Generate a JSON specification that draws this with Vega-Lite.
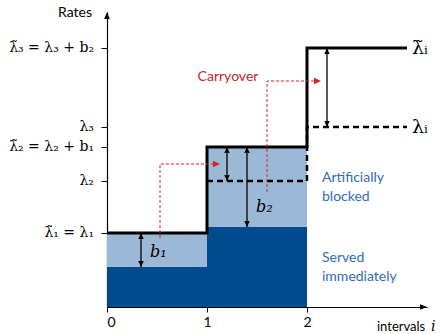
{
  "$schema": "https://vega.github.io/schema/vega-lite/v6.json",
  "width": 320,
  "height": 295,
  "autosize": "none",
  "padding": {"left": 107, "top": 12, "right": 15, "bottom": 27},
  "config": {"view": {"stroke": null}},
  "datasets": {
    "bars": [
      {"i0": 0, "i1": 1, "lo": 0, "hi": 4.0, "kind": "served"},
      {"i0": 1, "i1": 2, "lo": 0, "hi": 8.0, "kind": "served"},
      {"i0": 0, "i1": 1, "lo": 4.0, "hi": 7.4, "kind": "blocked"},
      {"i0": 1, "i1": 2, "lo": 8.0, "hi": 16.0, "kind": "blocked"}
    ],
    "solid": [
      {"ord": 1, "x": 0, "y": 7.4},
      {"ord": 2, "x": 1, "y": 7.4},
      {"ord": 3, "x": 1, "y": 16.0},
      {"ord": 4, "x": 2, "y": 16.0},
      {"ord": 5, "x": 2, "y": 25.9},
      {"ord": 6, "x": 3.0, "y": 25.9}
    ],
    "dashed": [
      {"ord": 1, "x": 1, "y": 12.6},
      {"ord": 2, "x": 2, "y": 12.6},
      {"ord": 3, "x": 2, "y": 18.0},
      {"ord": 4, "x": 3.0, "y": 18.0}
    ],
    "arrows": [
      {"x": 0.34, "top": 7.4, "bottom": 4.0},
      {"x": 1.2, "top": 16.0, "bottom": 12.6},
      {"x": 1.4, "top": 16.0, "bottom": 8.0},
      {"x": 2.2, "top": 25.9, "bottom": 18.0}
    ],
    "carry": [
      {"seg": "c1", "ord": 1, "x": 0.53, "y": 6.9},
      {"seg": "c1", "ord": 2, "x": 0.53, "y": 14.3},
      {"seg": "c1", "ord": 3, "x": 1.1, "y": 14.3},
      {"seg": "c2", "ord": 1, "x": 1.6, "y": 11.5},
      {"seg": "c2", "ord": 2, "x": 1.6, "y": 22.6},
      {"seg": "c2", "ord": 3, "x": 2.12, "y": 22.6}
    ],
    "carryTips": [
      {"x": 1.13, "y": 14.3},
      {"x": 2.14, "y": 22.6}
    ],
    "ylabels": [
      {"y": 25.9, "label": "λ̃₃ = λ₃ + b₂"},
      {"y": 18.0, "label": "λ₃"},
      {"y": 16.0, "label": "λ̃₂ = λ₂ + b₁"},
      {"y": 12.6, "label": "λ₂"},
      {"y": 7.4, "label": "λ̃₁ = λ₁"}
    ]
  },
  "layer": [
    {
      "data": {"name": "bars"},
      "mark": {"type": "rect"},
      "encoding": {
        "x": {"field": "i0", "type": "quantitative", "scale": {"domain": [0, 3.2], "nice": false},
          "axis": {"values": [0, 1, 2], "format": "d", "title": null, "grid": false, "domainColor": "black", "domainWidth": 1.2, "tickColor": "black", "tickSize": 5, "labelFont": "Lato", "labelFontSize": 14, "labelFontWeight": "normal", "labelColor": "black", "labelPadding": 3}},
        "x2": {"field": "i1"},
        "y": {"field": "lo", "type": "quantitative", "scale": {"domain": [0, 29.5], "nice": false},
          "axis": {"values": [7.4, 12.6, 16.0, 18.0, 25.9], "labels": false, "title": null, "grid": false, "domainColor": "black", "domainWidth": 1.2, "tickColor": "black", "tickSize": 6}},
        "y2": {"field": "hi"},
        "color": {"field": "kind", "type": "nominal", "scale": {"domain": ["served", "blocked"], "range": ["#004b8e", "#9bb9d7"]}, "legend": null}
      }
    },
    {
      "data": {"name": "dashed"},
      "mark": {"type": "line", "color": "black", "strokeWidth": 2.5, "strokeDash": [6, 4]},
      "encoding": {
        "x": {"field": "x", "type": "quantitative"},
        "y": {"field": "y", "type": "quantitative"},
        "order": {"field": "ord"}
      }
    },
    {
      "data": {"name": "solid"},
      "mark": {"type": "line", "color": "black", "strokeWidth": 3, "strokeJoin": "miter"},
      "encoding": {
        "x": {"field": "x", "type": "quantitative"},
        "y": {"field": "y", "type": "quantitative"},
        "order": {"field": "ord"}
      }
    },
    {
      "data": {"name": "arrows"},
      "mark": {"type": "rule", "color": "black", "strokeWidth": 1.3},
      "encoding": {
        "x": {"field": "x", "type": "quantitative"},
        "y": {"field": "top", "type": "quantitative"},
        "y2": {"field": "bottom"}
      }
    },
    {
      "data": {"name": "arrows"},
      "mark": {"type": "point", "shape": "M0,0L-0.45,1L0.45,1Z", "filled": true, "color": "black", "opacity": 1, "size": 144},
      "encoding": {
        "x": {"field": "x", "type": "quantitative"},
        "y": {"field": "top", "type": "quantitative"}
      }
    },
    {
      "data": {"name": "arrows"},
      "mark": {"type": "point", "shape": "M0,0L-0.45,-1L0.45,-1Z", "filled": true, "color": "black", "opacity": 1, "size": 144},
      "encoding": {
        "x": {"field": "x", "type": "quantitative"},
        "y": {"field": "bottom", "type": "quantitative"}
      }
    },
    {
      "data": {"name": "carry"},
      "mark": {"type": "line", "color": "#d0262b", "strokeWidth": 1, "strokeDash": [3, 2]},
      "encoding": {
        "x": {"field": "x", "type": "quantitative"},
        "y": {"field": "y", "type": "quantitative"},
        "detail": {"field": "seg"},
        "order": {"field": "ord"}
      }
    },
    {
      "data": {"name": "carryTips"},
      "mark": {"type": "point", "shape": "M0,0L-1,-0.45L-1,0.45Z", "filled": true, "color": "#d0262b", "opacity": 1, "size": 196},
      "encoding": {
        "x": {"field": "x", "type": "quantitative"},
        "y": {"field": "y", "type": "quantitative"}
      }
    },
    {
      "data": {"values": [{"x": 3.2, "y": 0}]},
      "mark": {"type": "point", "shape": "M0,0L-1,-0.4L-1,0.4Z", "filled": true, "color": "black", "opacity": 1, "size": 196, "clip": false},
      "encoding": {
        "x": {"field": "x", "type": "quantitative"},
        "y": {"field": "y", "type": "quantitative"}
      }
    },
    {
      "data": {"values": [{"x": 0, "y": 29.5}]},
      "mark": {"type": "point", "shape": "M0,0L-0.4,1L0.4,1Z", "filled": true, "color": "black", "opacity": 1, "size": 196, "clip": false},
      "encoding": {
        "x": {"field": "x", "type": "quantitative"},
        "y": {"field": "y", "type": "quantitative"}
      }
    },
    {
      "data": {"name": "ylabels"},
      "mark": {"type": "text", "align": "right", "baseline": "middle", "dx": -13, "font": "DejaVu Serif", "fontSize": 14, "color": "black"},
      "encoding": {
        "x": {"datum": 0, "type": "quantitative"},
        "y": {"field": "y", "type": "quantitative"},
        "text": {"field": "label"}
      }
    },
    {
      "data": {"values": [
        {"x": 3.05, "y": 25.9, "t": "λ̃ᵢ"},
        {"x": 3.05, "y": 18.0, "t": "λᵢ"}
      ]},
      "mark": {"type": "text", "align": "left", "baseline": "middle", "font": "DejaVu Serif", "fontSize": 19, "color": "black"},
      "encoding": {
        "x": {"field": "x", "type": "quantitative"},
        "y": {"field": "y", "type": "quantitative"},
        "text": {"field": "t"}
      }
    },
    {
      "data": {"values": [
        {"x": 0.43, "y": 5.5, "t": "b₁"},
        {"x": 1.49, "y": 10.0, "t": "b₂"}
      ]},
      "mark": {"type": "text", "align": "left", "baseline": "middle", "font": "DejaVu Serif", "fontStyle": "italic", "fontSize": 16, "color": "black"},
      "encoding": {
        "x": {"field": "x", "type": "quantitative"},
        "y": {"field": "y", "type": "quantitative"},
        "text": {"field": "t"}
      }
    },
    {
      "data": {"values": [
        {"x": 2.15, "y": 12.9, "t": "Artificially"},
        {"x": 2.15, "y": 11.0, "t": "blocked"},
        {"x": 2.15, "y": 4.9, "t": "Served"},
        {"x": 2.15, "y": 3.0, "t": "immediately"}
      ]},
      "mark": {"type": "text", "align": "left", "baseline": "middle", "font": "Lato", "fontSize": 14, "color": "#2e6db4"},
      "encoding": {
        "x": {"field": "x", "type": "quantitative"},
        "y": {"field": "y", "type": "quantitative"},
        "text": {"field": "t"}
      }
    },
    {
      "data": {"values": [{"x": 1.21, "y": 23.0, "t": "Carryover"}]},
      "mark": {"type": "text", "align": "center", "baseline": "middle", "font": "Lato", "fontSize": 14, "color": "#c1272d"},
      "encoding": {
        "x": {"field": "x", "type": "quantitative"},
        "y": {"field": "y", "type": "quantitative"},
        "text": {"field": "t"}
      }
    },
    {
      "data": {"values": [{"x": 0, "y": 29.4, "t": "Rates"}]},
      "mark": {"type": "text", "align": "right", "baseline": "middle", "dx": -15, "font": "Lato", "fontSize": 14, "color": "black", "clip": false},
      "encoding": {
        "x": {"field": "x", "type": "quantitative"},
        "y": {"field": "y", "type": "quantitative"},
        "text": {"field": "t"}
      }
    },
    {
      "data": {"values": [{"x": 2.7, "y": -2.0, "t": "intervals"}]},
      "mark": {"type": "text", "align": "left", "baseline": "middle", "font": "Lato", "fontSize": 13, "color": "black", "clip": false},
      "encoding": {
        "x": {"field": "x", "type": "quantitative"},
        "y": {"field": "y", "type": "quantitative"},
        "text": {"field": "t"}
      }
    },
    {
      "data": {"values": [{"x": 3.24, "y": -2.0, "t": "i"}]},
      "mark": {"type": "text", "align": "left", "baseline": "middle", "font": "DejaVu Serif", "fontStyle": "italic", "fontSize": 14, "color": "black", "clip": false},
      "encoding": {
        "x": {"field": "x", "type": "quantitative"},
        "y": {"field": "y", "type": "quantitative"},
        "text": {"field": "t"}
      }
    }
  ]
}
